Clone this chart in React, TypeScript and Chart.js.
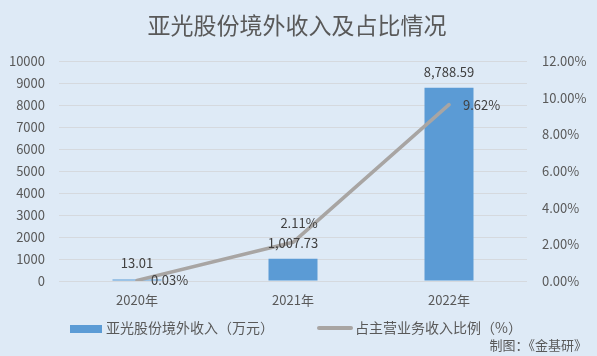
import React, { useEffect, useRef } from "react";
import { Chart, registerables } from "chart.js";

Chart.register(...registerables);

const categories = ["2020年", "2021年", "2022年"];
const revenue = [13.01, 1007.73, 8788.59];
const ratio = [0.03, 2.11, 9.62];
const revenueLabels = ["13.01", "1,007.73", "8,788.59"];
const ratioLabels = ["0.03%", "2.11%", "9.62%"];
const ratioLabelPlacement = ["right", "above", "right"];

const titleText = "亚光股份境外收入及占比情况";
const barLegend = "亚光股份境外收入（万元）";
const lineLegend = "占主营业务收入比例（%）";
const sourceText = "制图：《金基研》";

const FONT = '"Noto Sans CJK SC", "Noto Sans", sans-serif';
const BG = "#DEEAF6";
const BAR = "#5B9BD5";
const LINE = "#A8A5A3";
const TEXT = "#595959";
const LABEL = "#404040";

export default function App() {
  const ref = useRef<HTMLCanvasElement | null>(null);

  useEffect(() => {
    document.body.style.margin = "0";
    const canvas = ref.current;
    if (!canvas) return;

    const decor = {
      id: "decor",
      beforeDraw(chart: any) {
        const c = chart.ctx;
        c.save();
        c.fillStyle = BG;
        c.fillRect(0, 0, chart.width, chart.height);
        c.restore();
      },
      afterDraw(chart: any) {
        const c = chart.ctx;
        c.save();
        // title
        c.fillStyle = TEXT;
        c.font = `23px ${FONT}`;
        c.textAlign = "center";
        c.textBaseline = "middle";
        c.fillText(titleText, 297, 25);

        // data labels for bars
        c.font = `13px ${FONT}`;
        c.fillStyle = LABEL;
        const barMeta = chart.getDatasetMeta(0);
        barMeta.data.forEach((el: any, i: number) => {
          c.textAlign = "center";
          c.textBaseline = "middle";
          c.fillText(revenueLabels[i], el.x, Math.min(el.y, el.base) - 16);
        });
        // data labels for line
        const lineMeta = chart.getDatasetMeta(1);
        lineMeta.data.forEach((el: any, i: number) => {
          c.textBaseline = "middle";
          if (ratioLabelPlacement[i] === "right") {
            c.textAlign = "left";
            c.fillText(ratioLabels[i], el.x + 14, el.y);
          } else {
            c.textAlign = "center";
            c.fillText(ratioLabels[i], el.x + 6, el.y - 19);
          }
        });

        // legend
        c.fillStyle = BAR;
        c.fillRect(70, 325, 32, 8);
        c.fillStyle = TEXT;
        c.font = `14px ${FONT}`;
        c.textAlign = "left";
        c.textBaseline = "middle";
        c.fillText(barLegend, 106, 328);
        c.strokeStyle = LINE;
        c.lineWidth = 4;
        c.lineCap = "round";
        c.beginPath();
        c.moveTo(319, 328);
        c.lineTo(351, 328);
        c.stroke();
        c.fillText(lineLegend, 355, 328);

        // source
        c.font = `13px ${FONT}`;
        c.textAlign = "right";
        c.fillText(sourceText, 587, 345);
        c.restore();
      },
    };

    const chart = new Chart(canvas, {
      type: "bar",
      data: {
        labels: categories,
        datasets: [
          {
            type: "bar",
            label: barLegend,
            data: revenue,
            backgroundColor: BAR,
            yAxisID: "y",
            categoryPercentage: 1,
            barPercentage: 0.314,
            minBarLength: 1.5,
            order: 2,
          },
          {
            type: "line",
            label: lineLegend,
            data: ratio,
            borderColor: LINE,
            borderWidth: 3.5,
            borderCapStyle: "round",
            borderJoinStyle: "round",
            pointRadius: 0,
            tension: 0,
            yAxisID: "y1",
            order: 1,
          },
        ],
      },
      options: {
        responsive: false,
        animation: false,
        layout: { padding: { top: 61, bottom: 40, left: 0, right: 0 } },
        plugins: {
          legend: { display: false },
          title: { display: false },
          tooltip: { enabled: false },
        },
        scales: {
          x: {
            grid: { display: false, drawTicks: false },
            border: { display: false },
            ticks: { color: TEXT, font: { family: FONT, size: 13 }, padding: 11 },
            afterFit(scale: any) {
              scale.height = 35;
            },
          },
          y: {
            position: "left",
            min: 0,
            max: 10000,
            ticks: {
              stepSize: 1000,
              color: TEXT,
              font: { family: FONT, size: 13 },
              padding: 14,
              callback: (v: any) => String(v),
            },
            grid: { color: "#D5D9DE", drawTicks: false, lineWidth: 1 },
            border: { display: false },
            afterFit(scale: any) {
              scale.width = 59;
            },
          },
          y1: {
            position: "right",
            min: 0,
            max: 12,
            ticks: {
              stepSize: 2,
              color: TEXT,
              font: { family: FONT, size: 13 },
              padding: 15,
              callback: (v: any) => Number(v).toFixed(2) + "%",
            },
            grid: { display: false, drawTicks: false },
            border: { display: false },
            afterFit(scale: any) {
              scale.width = 70;
            },
          },
        },
      },
      plugins: [decor],
    } as any);

    return () => chart.destroy();
  }, []);

  return (
    <div style={{ width: 597, height: 356, overflow: "hidden", background: BG }}>
      <canvas ref={ref} width={597} height={356} style={{ display: "block" }} />
    </div>
  );
}
